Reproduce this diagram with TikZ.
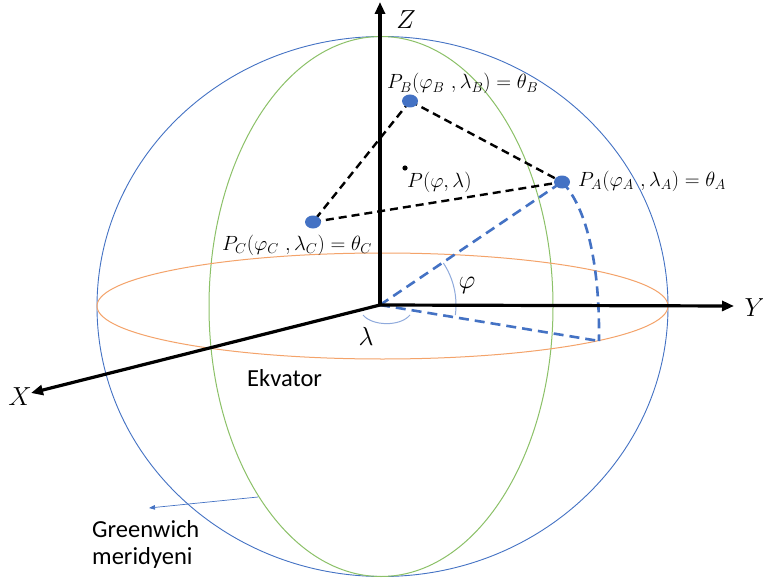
\documentclass[tikz,border=0pt]{standalone}
\usepackage{fontspec}
\newfontfamily\carl{Carlito}
\usetikzlibrary{arrows.meta,shapes.geometric}
\definecolor{sblue}{HTML}{4472C4}
\definecolor{sgreen}{HTML}{8CC168}
\definecolor{sorange}{HTML}{F4A36A}
\definecolor{lblue}{HTML}{8FAADC}
\tikzset{
  axis/.style={line width=3.2pt,-{Triangle[length=12pt,width=10pt]}},
  kdash/.style={line width=2.4pt,dash pattern=on 8pt off 5pt},
  bdash/.style={sblue,line width=2.6pt,dash pattern=on 10pt off 6pt},
  dot/.style={ellipse,fill=sblue,inner sep=0pt,minimum width=16pt,minimum height=13pt},
  mlabel/.style={font=\fontsize{17.28}{20}\selectfont,inner sep=0pt,scale=1.19},
  biglabel/.style={font=\fontsize{24.88}{30}\selectfont,inner sep=0pt,scale=1.05},
  slabel/.style={font=\carl\fontsize{24.5}{27}\selectfont,inner sep=0pt,align=left},
}
\begin{document}
\begin{tikzpicture}[x=1pt,y=-1pt]
\useasboundingbox[fill=white] (0,0) rectangle (763,583);
\coordinate (O) at (380,305);
\coordinate (A) at (562,182);
\coordinate (B) at (410,101);
\coordinate (C) at (313,222);
\coordinate (F) at (599,341);
\coordinate (Zt) at (380,2);
\coordinate (Yt) at (734,306);
\coordinate (Xt) at (31,393);
\coordinate (Gs) at (258,497);
\coordinate (Ge) at (149,508);
% sphere, meridian, equator
\draw[sblue,line width=0.9pt] (382.5,306.5) ellipse [x radius=285.5,y radius=270];
\draw[sgreen,line width=1pt] (381,306.5) ellipse [x radius=172,y radius=270];
\draw[sorange,line width=1pt] (382.5,306) ellipse [x radius=285.5,y radius=53];
% triangle
\draw[kdash] (B) -- (A);
\draw[kdash] (B) -- (C);
\draw[kdash] (C) -- (A);
% blue dashed
\draw[bdash] (O) -- (A);
\draw[bdash] (O) -- (F);
\draw[bdash] (A) .. controls (585,205) and (600,260) .. (F);
% angle arcs
\draw[lblue,line width=1pt] ([shift={(-33.5:76)}]O) arc[start angle=-33.5,end angle=7.6,radius=76];
\draw[lblue,line width=1pt] (363,315) .. controls (372,326) and (400,327) .. (410,315);
% axes
\draw[axis] (O) -- (Zt);
\draw[axis] (O) -- (Yt);
\draw[axis] (O) -- (Xt);
% Greenwich arrow
\draw[sblue,line width=0.7pt,-{Triangle[length=6pt,width=4.5pt]}] (Gs) -- (Ge);
% points
\node[dot] (PA) at (A) {};
\node[dot] (PB) at (B) {};
\node[dot] (PC) at (C) {};
\fill (405,168) circle (2.6pt);
% labels
\node[biglabel] (lz) at (406,20) {$Z$};
\node[biglabel] (ly) at (755,308) {$Y$};
\node[biglabel] (lx) at (20,397) {$X$};
\node[biglabel] (lphi) at (467,285) {$\varphi$};
\node[biglabel] (llam) at (366,336) {$\lambda$};
\node[mlabel,anchor=base west] (tb) at (387,89) {$P_B(\varphi_B\ ,\lambda_B) = \theta_B$};
\node[mlabel,anchor=base west] (ta) at (578,186) {$P_A(\varphi_A\ ,\lambda_A) = \theta_A$};
\node[mlabel,anchor=base west] (tc) at (222,250) {$P_C(\varphi_C\ ,\lambda_C) = \theta_C$};
\node[mlabel,anchor=base west] (tp) at (407,187) {$P(\varphi,\lambda)$};
\node[slabel,anchor=base west] (ek) at (247,386) {Ekvator};
\node[slabel,anchor=base west] (gr) at (92,537) {Greenwich};
\node[slabel,anchor=base west] (gm) at (92,564) {meridyeni};
\end{tikzpicture}
\end{document}
